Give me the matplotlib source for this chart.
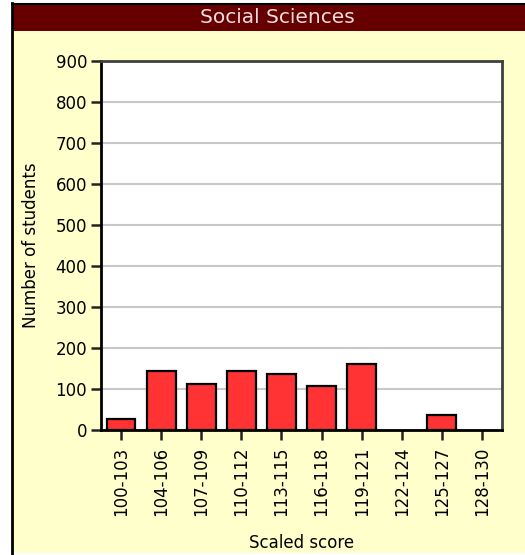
import matplotlib
matplotlib.use("Agg")
import matplotlib.pyplot as plt
from matplotlib.patches import Rectangle

# data
categories = ['100-103', '104-106', '107-109', '110-112', '113-115',
              '116-118', '119-121', '122-124', '125-127', '128-130']
students = [27, 143, 113, 143, 136, 108, 161, 0, 36, 0]
yticks = [0, 100, 200, 300, 400, 500, 600, 700, 800, 900]

W, H = 525, 555
fig = plt.figure(figsize=(W / 100, H / 100), dpi=100, facecolor='white')

def px(x, y, w, h):
    # pixel box (top-left origin) -> figure fraction
    return (x / W, 1 - (y + h) / H, w / W, h / H)

# cream panel with black left/top border
x0, y0, w0, h0 = px(13, 3, 512, 550)
fig.patches.append(Rectangle((x0, y0), w0, h0, transform=fig.transFigure,
                             facecolor='#ffffcc', edgecolor='none', zorder=0))
fig.add_artist(plt.Line2D([12 / W, 12 / W], [0, 1 - 3 / H], transform=fig.transFigure,
                          color='black', lw=2))
fig.add_artist(plt.Line2D([12 / W, 1], [1 - 3.5 / H, 1 - 3.5 / H], transform=fig.transFigure,
                          color='black', lw=1.5))

# title bar
x1, y1, w1, h1 = px(13, 4.5, 512, 26.5)
fig.patches.append(Rectangle((x1, y1), w1, h1, transform=fig.transFigure,
                             facecolor='#660000', edgecolor='none', zorder=1))
fig.text(277 / W, 1 - 17.5 / H, 'Social Sciences', color='#eedddd',
         fontsize=14.5, ha='center', va='center', zorder=2)

ax = fig.add_axes(px(101, 60.5, 401, 369.5))
ax.set_zorder(5)
ax.set_facecolor('white')
x = list(range(len(categories)))
# empty bins get no outline
edges = [1.6 if v > 0 else 0 for v in students]
ax.bar(x, students, width=0.72, color='#ff3333', edgecolor='black',
       linewidth=edges, zorder=3)

ax.set_xlim(-0.5, len(categories) - 0.5)
ax.set_ylim(0, 900)
ax.set_yticks(yticks)
ax.set_xticks(x)
ax.set_xticklabels(categories, rotation=90)
ax.yaxis.grid(True, color='#c8c8c8', lw=1.5, zorder=0)
ax.set_axisbelow(True)

for side in ['left', 'bottom']:
    ax.spines[side].set_color('black')
    ax.spines[side].set_linewidth(2)
for side in ['top', 'right']:
    ax.spines[side].set_color('#404040')
    ax.spines[side].set_linewidth(2)

ax.tick_params(axis='both', direction='out', length=7, width=1.8,
               color='#222222', labelsize=12, labelcolor='black', pad=3)
ax.tick_params(axis='x', pad=5)

ax.set_xlabel('Scaled score', fontsize=12, labelpad=13)
ax.set_ylabel('Number of students', fontsize=12, labelpad=11)

fig.savefig('out.png', dpi=100, facecolor=fig.get_facecolor())
